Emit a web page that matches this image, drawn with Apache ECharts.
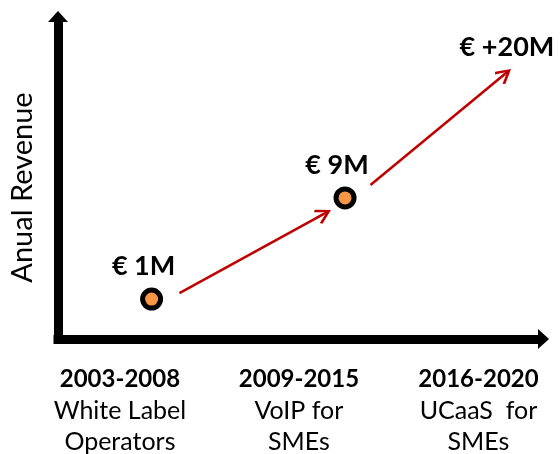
<!DOCTYPE html>
<html>
<head>
    <meta charset="utf-8">
    <title>Revenue timeline</title>
    <script src="https://cdn.jsdelivr.net/npm/echarts@6/dist/echarts.min.js"></script>
    <style>
        html, body { margin: 0; padding: 0; background: #fff; }
    </style>
</head>
<body>
    <div id="main" style="width: 560px;height:454px;"></div>
    <script type="text/javascript">
        // periods on the x axis (placed at labelPos, in axis units 0-10)
        var periods = ['2003-2008', '2009-2015', '2016-2020'];
        var focus = ['White Label\nOperators', 'VoIP for\nSMEs', 'UCaaS  for\nSMEs'];
        var labelPos = [1.29, 5.02, 8.76];

        // milestones (schematic levels, the last one has no dot)
        var revenue = ['€ 1M', '€ 9M', '€ +20M'];
        var pointX = [1.95, 5.98, 9.52];
        var pointY = [1.26, 4.45, 8.17];

        // growth arrows [x1, y1, x2, y2], end = centre of the head
        var arrows = [
            [2.53, 1.45, 5.54, 3.95],
            [6.51, 4.86, 9.31, 8.36]
        ];

        var font = 'Lato, "Open Sans", sans-serif';
        // open arrow head with a stem down to the symbol centre
        var head = 'path://M0,14 L10,0 L20,14 L17.5,16 L10,5 L2.5,16 Z M8.75,3 L11.25,3 L11.25,16 L8.75,16 Z';

        var myChart = echarts.init(document.getElementById('main'));

        var axisLine = {
            lineStyle: { color: '#000', width: 9, cap: 'square' },
            symbol: ['none', 'triangle'],
            symbolSize: [20, 11],
            symbolOffset: [0, 5.5]
        };

        var option = {
            animation: false,
            grid: { left: 56, top: 22, right: 22, bottom: 115 },
            xAxis: {
                type: 'value',
                min: 0,
                max: 10,
                splitLine: { show: false },
                axisTick: { show: false },
                axisLine: axisLine,
                axisLabel: {
                    customValues: labelPos,
                    margin: 25,
                    formatter: function (v) {
                        var i = labelPos.indexOf(v);
                        if (i < 0) return '';
                        return '{b|' + periods[i] + '}\n' +
                            focus[i].split('\n').map(function (s) { return '{n|' + s + '}'; }).join('\n');
                    },
                    rich: {
                        b: { fontFamily: font, fontWeight: 'bold', fontSize: 24, lineHeight: 31, color: '#000' },
                        n: { fontFamily: font, fontSize: 25, lineHeight: 31, color: '#000' }
                    }
                }
            },
            yAxis: {
                type: 'value',
                min: 0,
                max: 10,
                name: 'Anual Revenue',
                nameLocation: 'middle',
                nameRotate: 90,
                nameGap: 21,
                nameTextStyle: { fontFamily: font, fontSize: 29, color: '#000', padding: [0, 14, 0, 0] },
                splitLine: { show: false },
                axisTick: { show: false },
                axisLabel: { show: false },
                axisLine: axisLine
            },
            series: [{
                type: 'lines',
                coordinateSystem: 'cartesian2d',
                symbol: ['none', head],
                symbolSize: [20, 16],
                lineStyle: { color: '#C00000', width: 2.5, opacity: 1 },
                data: arrows.map(function (a) {
                    return { coords: [[a[0], a[1]], [a[2], a[3]]] };
                }),
                z: 3
            }, {
                type: 'scatter',
                symbolSize: 18,
                data: pointX.map(function (x, i) {
                    var last = i === pointX.length - 1;
                    return {
                        value: [x, pointY[i]],
                        itemStyle: last ? { color: 'rgba(0,0,0,0)', borderColor: 'rgba(0,0,0,0)' } : undefined
                    };
                }),
                itemStyle: { color: '#F79646', borderColor: '#000', borderWidth: 5, opacity: 1 },
                label: {
                    show: true,
                    position: 'top',
                    distance: 8,
                    offset: [-8, 0],
                    formatter: function (p) { return revenue[p.dataIndex]; },
                    fontFamily: font,
                    fontWeight: 'bold',
                    fontSize: 27,
                    color: '#000'
                },
                z: 4
            }]
        };

        myChart.setOption(option);
    </script>
</body>
</html>
